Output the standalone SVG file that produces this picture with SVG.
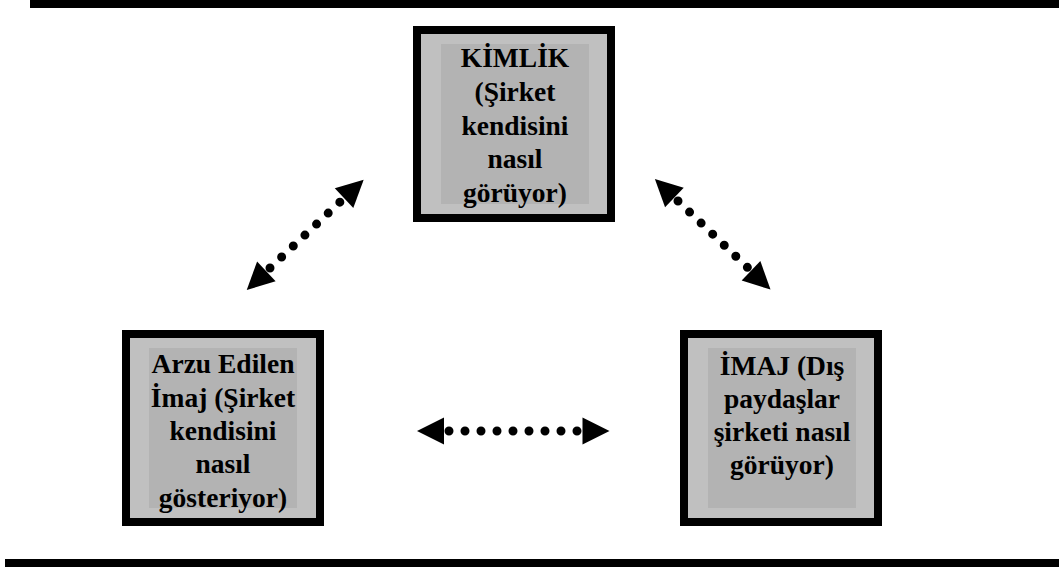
<svg xmlns="http://www.w3.org/2000/svg" width="1059" height="569" viewBox="0 0 1059 569">
<defs>
<style>
.frame{fill:#c0c0c0;stroke:#000;stroke-width:8}
.inner{fill:#b3b3b3}
.lbl{font-family:"Liberation Serif","Times New Roman",serif;font-weight:bold;font-size:27.5px;fill:#000;text-anchor:middle}
.dots{fill:none;stroke:#000;stroke-width:9;stroke-linecap:round;stroke-dasharray:0 16}
</style>
<marker id="ah" markerUnits="userSpaceOnUse" viewBox="-40 -20 80 40" refX="0" refY="0" markerWidth="80" markerHeight="40" orient="auto-start-reverse" overflow="visible">
<path d="M5,-13.5 L32,0 L5,13.5 Z" fill="#000"/>
</marker>
</defs>
<rect x="30" y="0" width="1029" height="8" fill="#000"/>
<rect x="5" y="559" width="1054" height="8" fill="#000"/>
<g id="kimlik">
<rect class="frame" x="417" y="30" width="194" height="188"/>
<rect class="inner" x="441" y="44" width="148" height="160"/>
<text class="lbl" x="515" y="67">KİMLİK</text>
<text class="lbl" x="515" y="101">(Şirket</text>
<text class="lbl" x="515" y="135">kendisini</text>
<text class="lbl" x="515" y="168">nasıl</text>
<text class="lbl" x="515" y="202">görüyor)</text>
</g>
<g id="arzu">
<rect class="frame" x="126" y="334" width="194" height="188"/>
<rect class="inner" x="149" y="348" width="148" height="160"/>
<text class="lbl" x="223" y="373">Arzu Edilen</text>
<text class="lbl" x="223" y="407">İmaj (Şirket</text>
<text class="lbl" x="223" y="440">kendisini</text>
<text class="lbl" x="223" y="473">nasıl</text>
<text class="lbl" x="223" y="507">gösteriyor)</text>
</g>
<g id="imaj">
<rect class="frame" x="684" y="334" width="194" height="188"/>
<rect class="inner" x="708" y="348" width="148" height="160"/>
<text class="lbl" x="782" y="375">İMAJ (Dış</text>
<text class="lbl" x="782" y="408">paydaşlar</text>
<text class="lbl" x="782" y="441">şirketi nasıl</text>
<text class="lbl" x="782" y="474">görüyor)</text>
</g>
<g id="connectors">
<path class="dots" d="M270,268 L340.4,201.6" marker-start="url(#ah)" marker-end="url(#ah)"/>
<path class="dots" d="M678,201 L747.4,267.4" marker-start="url(#ah)" marker-end="url(#ah)"/>
<path class="dots" d="M449,431 L577.5,431" marker-start="url(#ah)" marker-end="url(#ah)"/>
</g>
</svg>
